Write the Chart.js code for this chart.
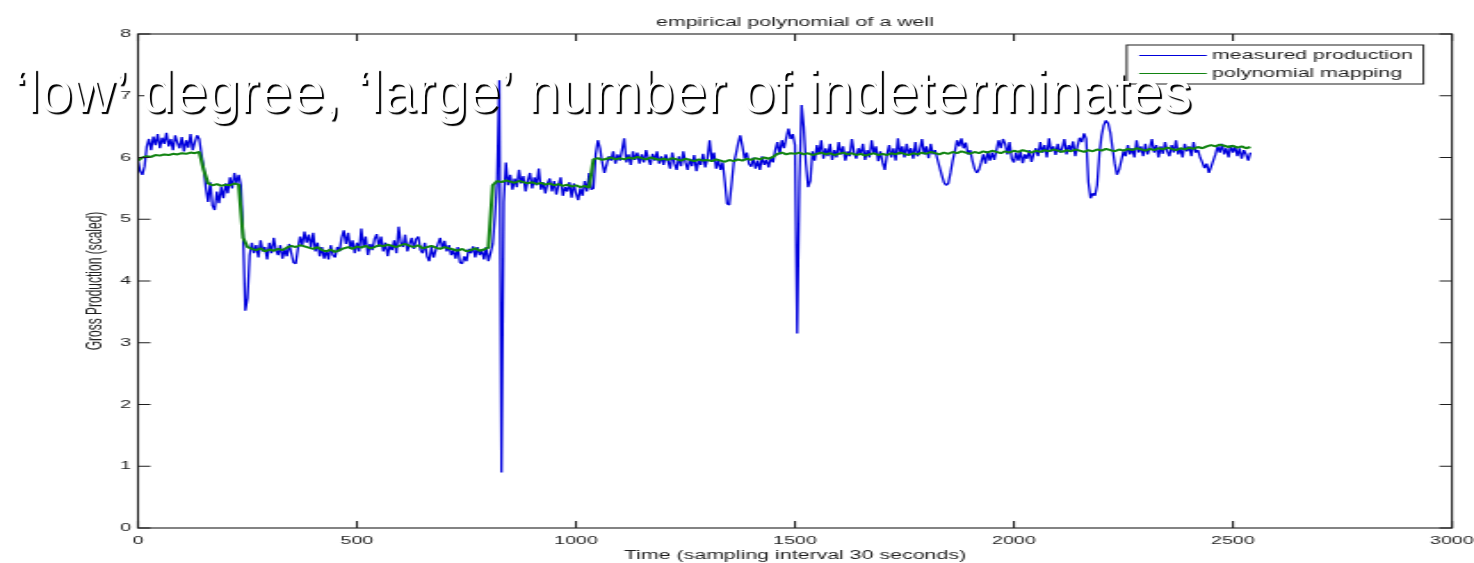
<!DOCTYPE html>
<html>
<head>
<meta charset="utf-8">
<title>empirical polynomial of a well</title>
<script src="https://cdn.jsdelivr.net/npm/chart.js@4.4.1/dist/chart.umd.min.js"></script>
<style>
  html, body { margin: 0; padding: 0; background: #fff; overflow: hidden; }
  #stage { position: relative; width: 1474px; height: 563px; }
  /* the figure is laid out narrow and widened horizontally */
  #figure { position: absolute; left: 0; top: 0; width: 828px; height: 563px;
            transform: scaleX(1.780193); transform-origin: 0 0; }
  #caption { position: absolute; left: 14px; top: 62px; white-space: nowrap;
             font: 58.6px/59px "Liberation Sans", Arial, Helvetica, sans-serif;
             color: #fff; text-shadow: 2px 2px 1px #000; }
</style>
</head>
<body>
<div id="stage">
  <div id="figure"><canvas id="chart" width="828" height="563"></canvas></div>
  <div id="caption">‘low’ degree, ‘large’ number of indeterminates</div>
</div>
<script>
// Gross production (scaled), one value every 5 samples
const measuredStep = 5;
const measured0000 = [
  5.95, 5.78, 5.72, 5.86, 6.18, 6.30, 6.12, 6.34, 6.20, 6.38,
  6.15, 6.32, 6.22, 6.40, 6.18, 6.30, 6.12, 6.36, 6.24, 6.15,
  6.33, 6.10, 6.28, 6.16, 6.38, 6.12, 6.25, 6.36, 6.30, 6.05,
  5.85, 5.50, 5.28, 5.60, 5.22, 5.15, 5.45, 5.26, 5.52, 5.34,
  5.58, 5.42, 5.68, 5.50, 5.75, 5.58, 5.72, 5.55, 4.75, 3.52,
  3.72, 4.42, 4.62, 4.45, 4.58, 4.38, 4.66, 4.48, 4.55, 4.35,
  4.62, 4.45, 4.70, 4.50, 4.42, 4.58, 4.36, 4.52, 4.40, 4.60,
  4.45, 4.30, 4.28, 4.52, 4.72, 4.58, 4.80, 4.62, 4.75, 4.55,
  4.78, 4.48, 4.62, 4.40, 4.55, 4.36, 4.50, 4.35, 4.58, 4.42,
  4.38, 4.55, 4.48, 4.70, 4.82, 4.60, 4.78, 4.52, 4.66, 4.45
];
const measured0500 = [
  4.62, 4.48, 4.85, 4.55, 4.72, 4.42, 4.60, 4.50, 4.68, 4.76,
  4.55, 4.72, 4.48, 4.62, 4.40, 4.58, 4.50, 4.66, 4.45, 4.88,
  4.62, 4.55, 4.75, 4.48, 4.60, 4.70, 4.52, 4.68, 4.72, 4.50,
  4.45, 4.62, 4.40, 4.32, 4.55, 4.38, 4.50, 4.60, 4.70, 4.52,
  4.65, 4.48, 4.58, 4.42, 4.50, 4.36, 4.55, 4.30, 4.28, 4.40,
  4.32, 4.52, 4.45, 4.56, 4.38, 4.55, 4.42, 4.50, 4.35, 4.55,
  4.32, 4.45, 4.60, 5.05, 5.62, 7.25, 0.90, 5.28, 5.92, 5.55,
  5.72, 5.48, 5.66, 5.52, 5.80, 5.58, 5.70, 5.45, 5.62, 5.75,
  5.50, 5.68, 5.55, 5.82, 5.48, 5.60, 5.42, 5.58, 5.66, 5.45,
  5.62, 5.40, 5.55, 5.68, 5.38, 5.52, 5.45, 5.60, 5.35, 5.58
];
const measured1000 = [
  5.42, 5.31, 5.50, 5.38, 5.62, 5.45, 5.75, 5.48, 5.50, 6.05,
  6.28, 6.15, 5.92, 5.75, 5.88, 6.02, 5.95, 6.10, 5.90, 6.05,
  5.95, 6.12, 6.31, 5.92, 6.05, 5.88, 6.10, 5.96, 6.08, 5.90,
  6.05, 5.92, 6.12, 5.98, 5.88, 6.06, 5.95, 6.10, 5.90, 6.02,
  5.88, 6.05, 5.95, 5.82, 6.08, 5.90, 5.80, 6.02, 5.86, 6.10,
  5.92, 5.80, 5.98, 5.86, 6.04, 5.78, 5.95, 5.88, 6.06, 5.84,
  5.98, 6.28, 5.95, 6.08, 5.82, 5.96, 5.80, 5.92, 5.60, 5.25,
  5.23, 5.55, 5.90, 6.05, 6.22, 6.36, 6.18, 5.98, 6.08, 5.90,
  5.85, 6.00, 5.82, 5.95, 5.80, 6.02, 5.88, 5.96, 5.84, 6.00,
  5.92, 6.12, 6.25, 6.05, 6.28, 6.15, 6.32, 6.47, 6.30, 6.38
];
const measured1500 = [
  6.20, 3.15, 5.60, 6.85, 6.50, 5.90, 5.52, 5.62, 6.10, 5.95,
  6.20, 6.05, 6.28, 5.98, 6.15, 6.02, 6.22, 5.96, 6.12, 6.00,
  6.25, 6.05, 6.18, 5.95, 6.10, 6.02, 6.30, 6.08, 5.98, 6.15,
  6.05, 6.22, 5.96, 6.12, 6.00, 6.28, 6.06, 6.18, 5.94, 6.10,
  5.92, 5.80, 6.05, 6.20, 6.00, 6.15, 5.95, 6.31, 6.05, 6.18,
  6.00, 6.22, 6.05, 6.15, 5.98, 6.25, 6.02, 6.12, 6.30, 6.05,
  6.18, 5.99, 6.22, 6.05, 6.12, 5.98, 5.85, 5.72, 5.60, 5.55,
  5.58, 5.75, 5.95, 6.10, 6.28, 6.18, 6.31, 6.15, 6.24, 6.05,
  6.12, 5.95, 5.82, 5.75, 5.80, 5.92, 6.05, 5.90, 6.10, 5.95,
  6.08, 5.96, 6.12, 6.28, 6.15, 6.30, 6.22, 6.05, 6.25, 5.98
];
const measured2000 = [
  5.92, 6.08, 5.95, 6.10, 5.91, 6.05, 5.98, 6.12, 5.93, 6.06,
  6.15, 6.02, 6.25, 6.08, 6.20, 6.00, 6.31, 6.10, 6.18, 6.04,
  6.22, 6.08, 6.15, 6.30, 6.05, 6.20, 6.12, 6.26, 6.02, 6.18,
  6.32, 6.25, 6.39, 6.30, 5.60, 5.34, 5.42, 5.38, 5.55, 6.05,
  6.35, 6.52, 6.60, 6.55, 6.40, 6.15, 5.90, 5.72, 5.80, 5.95,
  6.10, 6.02, 6.20, 6.05, 6.15, 6.00, 6.28, 6.08, 6.18, 6.02,
  6.22, 6.05, 6.15, 6.30, 6.08, 6.20, 6.00, 6.18, 6.06, 6.25,
  6.10, 6.02, 6.20, 6.08, 6.28, 6.05, 6.15, 6.00, 6.22, 6.10,
  6.18, 6.02, 6.25, 6.08, 6.12, 6.00, 5.92, 5.83, 5.90, 5.75,
  5.85, 5.95, 6.05, 6.18, 6.08, 6.22, 6.05, 6.15, 6.00, 6.20,
  6.08, 6.18, 6.02, 6.15, 5.98, 6.12, 6.05, 5.95, 6.08
];

// Polynomial mapping output, one value every 10 samples
const mappingStep = 10;
const mapping = [
  5.95, 6.00, 6.02, 6.01, 6.04, 6.03, 6.05, 6.04, 6.06, 6.05,
  6.07, 6.06, 6.08, 6.07, 6.09, 5.80, 5.58, 5.55, 5.57, 5.54,
  5.56, 5.55, 5.58, 5.56, 4.70, 4.55, 4.52, 4.50, 4.53, 4.48,
  4.51, 4.49, 4.52, 4.50, 4.54, 4.57, 4.55, 4.58, 4.56, 4.54,
  4.52, 4.55, 4.50, 4.48, 4.51, 4.47, 4.50, 4.53, 4.55, 4.52,
  4.56, 4.54, 4.57, 4.53, 4.55, 4.58, 4.56, 4.59, 4.57, 4.55,
  4.58, 4.60, 4.57, 4.55, 4.58, 4.53, 4.55, 4.57, 4.54, 4.52,
  4.55, 4.53, 4.51, 4.49, 4.52, 4.48, 4.50, 4.53, 4.49, 4.51,
  4.54, 5.55, 5.62, 5.60, 5.63, 5.61, 5.59, 5.62, 5.60, 5.58,
  5.60, 5.57, 5.59, 5.56, 5.58, 5.55, 5.57, 5.54, 5.56, 5.53,
  5.55, 5.52, 5.54, 5.51, 5.97, 5.99, 5.96, 5.98, 6.00, 5.97,
  5.99, 5.97, 6.00, 5.98, 6.01, 5.99, 5.97, 6.00, 5.98, 5.96,
  5.98, 5.96, 5.99, 5.97, 5.95, 5.98, 5.96, 5.94, 5.97, 5.95,
  5.96, 5.94, 5.97, 5.95, 5.93, 5.96, 5.94, 5.97, 5.95, 5.98,
  5.96, 5.99, 5.97, 6.00, 5.98, 6.01, 6.06, 6.08, 6.05, 6.07,
  6.06, 6.08, 6.05, 6.07, 6.04, 6.06, 6.08, 6.05, 6.07, 6.04,
  6.06, 6.08, 6.05, 6.07, 6.04, 6.06, 6.03, 6.05, 6.07, 6.04,
  6.06, 6.04, 6.07, 6.05, 6.08, 6.06, 6.04, 6.07, 6.05, 6.08,
  6.06, 6.09, 6.07, 6.05, 6.08, 6.06, 6.09, 6.07, 6.10, 6.08,
  6.06, 6.09, 6.07, 6.10, 6.08, 6.11, 6.09, 6.07, 6.10, 6.08,
  6.11, 6.09, 6.12, 6.10, 6.08, 6.11, 6.09, 6.12, 6.10, 6.13,
  6.11, 6.09, 6.12, 6.10, 6.13, 6.11, 6.09, 6.12, 6.10, 6.13,
  6.11, 6.14, 6.12, 6.10, 6.13, 6.11, 6.14, 6.12, 6.15, 6.13,
  6.11, 6.14, 6.12, 6.15, 6.13, 6.16, 6.14, 6.12, 6.15, 6.13,
  6.16, 6.14, 6.17, 6.15, 6.18, 6.20, 6.18, 6.21, 6.19, 6.17,
  6.19, 6.16, 6.18, 6.15, 6.17
];

const timeTicks = [0, 500, 1000, 1500, 2000, 2500, 3000];
const productionTicks = [0, 1, 2, 3, 4, 5, 6, 7, 8];
const seriesLabels = ['measured production', 'polynomial mapping'];

const FONT = '"Liberation Sans", Arial, Helvetica, sans-serif';
const INK = '#1e1e1e';
const BLUE = '#0000dc';
const GREEN = '#128412';

const measuredValues = [].concat(measured0000, measured0500, measured1000, measured1500, measured2000);
const measuredPoints = measuredValues.map((v, i) => ({ x: i * measuredStep, y: v }));
const mappingPoints = mapping.map((v, i) => ({ x: i * mappingStep, y: v }));

// Axes box with short inward ticks on all four sides
const frameAndTicks = {
  id: 'frameAndTicks',
  afterDatasetsDraw(chart) {
    const { ctx, chartArea: a, scales: { x, y } } = chart;
    const len = 7;
    ctx.save();
    ctx.strokeStyle = INK;
    ctx.lineWidth = 1.1;
    ctx.beginPath();
    x.ticks.forEach(t => {
      const px = x.getPixelForValue(t.value);
      ctx.moveTo(px, a.bottom); ctx.lineTo(px, a.bottom - len);
      ctx.moveTo(px, a.top); ctx.lineTo(px, a.top + len);
    });
    y.ticks.forEach(t => {
      const py = y.getPixelForValue(t.value);
      ctx.moveTo(a.left, py); ctx.lineTo(a.left + len, py);
      ctx.moveTo(a.right, py); ctx.lineTo(a.right - len, py);
    });
    ctx.stroke();
    ctx.strokeRect(a.left, a.top, a.right - a.left, a.bottom - a.top);
    ctx.restore();
  }
};

// Boxed legend in the upper right corner of the axes
const boxLegend = {
  id: 'boxLegend',
  afterDraw(chart) {
    const { ctx, chartArea: a } = chart;
    const sets = chart.data.datasets;
    ctx.save();
    ctx.font = '12px ' + FONT;
    const textW = Math.max(...sets.map(d => ctx.measureText(d.label).width));
    const padL = 7, lineLen = 38, gap = 3, padR = 6, rowH = 18;
    const w = padL + lineLen + gap + textW + padR;
    const h = 39;
    const right = a.right - 16;
    const left = right - w;
    const top = a.top + 11;
    ctx.fillStyle = '#fff';
    ctx.fillRect(left, top, w, h);
    ctx.strokeStyle = INK;
    ctx.lineWidth = 1;
    ctx.strokeRect(left, top, w, h);
    sets.forEach((d, i) => {
      const cy = top + 10.5 + i * rowH;
      ctx.strokeStyle = d.borderColor;
      ctx.lineWidth = 1;
      ctx.beginPath();
      ctx.moveTo(left + padL, cy);
      ctx.lineTo(left + padL + lineLen, cy);
      ctx.stroke();
      ctx.fillStyle = INK;
      ctx.textBaseline = 'middle';
      ctx.textAlign = 'left';
      ctx.fillText(d.label, left + padL + lineLen + gap, cy + 0.5);
    });
    ctx.restore();
  }
};

new Chart(document.getElementById('chart'), {
  type: 'line',
  data: {
    datasets: [
      { label: seriesLabels[0], data: measuredPoints, borderColor: BLUE, borderWidth: 1.3,
        pointRadius: 0, tension: 0, borderJoinStyle: 'bevel', order: 1 },
      { label: seriesLabels[1], data: mappingPoints, borderColor: GREEN, borderWidth: 2,
        pointRadius: 0, tension: 0, borderJoinStyle: 'bevel', order: 0 }
    ]
  },
  options: {
    responsive: false,
    animation: false,
    parsing: false,
    normalized: true,
    events: [],
    layout: { padding: { left: 0, right: 12.4, top: 0, bottom: 0 } },
    plugins: {
      legend: { display: false },
      tooltip: { enabled: false },
      title: {
        display: true,
        text: 'empirical polynomial of a well',
        fullSize: false,
        color: INK,
        font: { family: FONT, size: 12, weight: 'normal' },
        padding: { top: 15, bottom: 4.6 }
      }
    },
    scales: {
      x: {
        type: 'linear', min: 0, max: 3000,
        afterBuildTicks: s => { s.ticks = timeTicks.map(v => ({ value: v })); },
        afterFit: s => { s.height = 35; s.paddingLeft = 0; s.paddingRight = 0; },
        grid: { display: false, drawTicks: false },
        border: { display: false },
        ticks: { padding: 6.5, color: INK, font: { family: FONT, size: 11 }, maxRotation: 0,
                 autoSkip: false, callback: v => String(v) },
        title: { display: true, text: 'Time (sampling interval 30 seconds)', color: INK,
                 font: { family: FONT, size: 12 }, padding: { top: 0, bottom: 0 } }
      },
      y: {
        type: 'linear', min: 0, max: 8,
        afterBuildTicks: s => { s.ticks = productionTicks.map(v => ({ value: v })); },
        afterFit: s => { s.width = 77.5; s.paddingTop = 0; s.paddingBottom = 0; },
        grid: { display: false, drawTicks: false },
        border: { display: false },
        ticks: { padding: 4, color: INK, font: { family: FONT, size: 11 }, autoSkip: false,
                 callback: v => String(v) },
        title: { display: true, text: 'Gross Production (scaled)', color: INK,
                 font: { family: FONT, size: 12 }, padding: { top: 46.5, bottom: 0 } }
      }
    }
  },
  plugins: [frameAndTicks, boxLegend]
});
</script>
</body>
</html>
